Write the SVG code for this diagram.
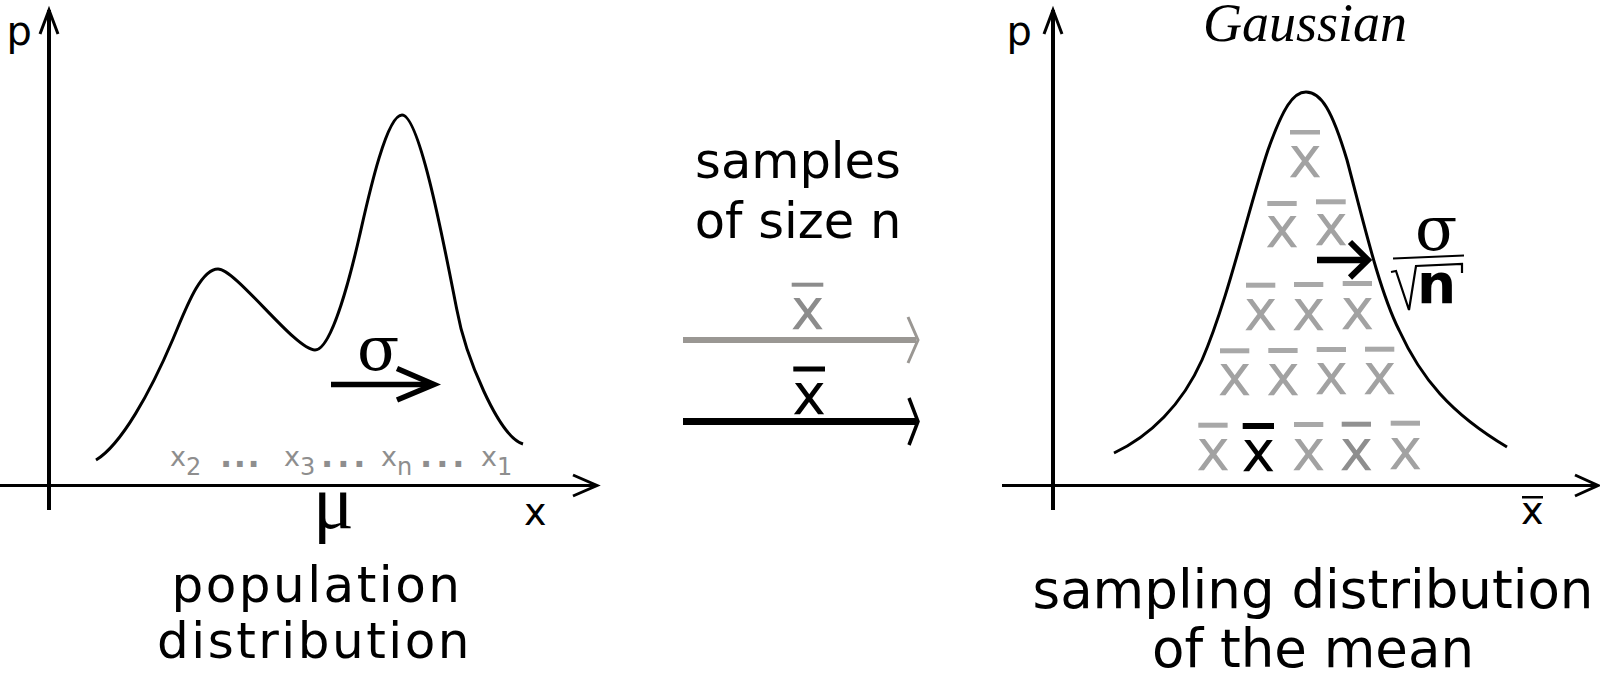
<svg xmlns="http://www.w3.org/2000/svg" width="1600" height="673" viewBox="0 0 1600 673">
<style>
.ln{stroke:#000;fill:none;stroke-width:3}
.ah{stroke:#000;fill:none;stroke-width:3;stroke-linejoin:miter}
.serif{font-family:"Liberation Serif","Times New Roman",serif}
.sig{font-family:"DejaVu Serif","Liberation Serif",serif;font-size:62px}
.mu{font-family:"Liberation Serif","Times New Roman",serif;font-size:76px}
.lbl{font-family:"DejaVu Sans","Liberation Sans",sans-serif;fill:#000}
.sm{font-family:"DejaVu Sans",sans-serif;font-size:27px;fill:#8e8e8e}
.dots{font-family:"DejaVu Sans",sans-serif;font-weight:bold;font-size:32px;fill:#8e8e8e}
.xb{font-family:"DejaVu Sans",sans-serif;font-size:57px;text-anchor:middle}
.g{fill:#a2a2a2}
.gb{fill:#a8a8a8}
</style>
<rect width="1600" height="673" fill="#fff"/>

<g id="left-panel">
  <g id="left-axes">
    <line class="ln" x1="49" y1="10" x2="49" y2="510" style="stroke-width:4"/>
    <polyline class="ah" points="40,34 49,10 58,34"/>
    <line class="ln" x1="0" y1="485.5" x2="596" y2="485.5"/>
    <polyline class="ah" points="573,475 597,485.5 573,496"/>
    <text class="lbl" x="6.5" y="45" font-size="40">p</text>
    <text class="lbl" x="524" y="525" font-size="38">x</text>
  </g>
  <g id="population-curve">
    <path class="ln" d="M96,460 C121,445 150,393 173,339 C185,311 200,269 218,269 C236,269 295,350 315,350 C332,350 351.5,271 359.5,236 C367.5,201 386,115 402,115 C420,115 445,250 456.7,309 C465,355 498,436 523,444"/>
  </g>
  <g id="sigma-arrow">
    <line x1="331" y1="384.5" x2="431" y2="384.5" stroke="#000" stroke-width="5.5"/>
    <polyline points="397,368.5 434,384.5 397,400" fill="none" stroke="#000" stroke-width="5.5"/>
    <text class="sig" x="357" y="370">σ</text>
  </g>
  <g id="samples-labels">
    <text class="sm" x="170" y="466">x<tspan font-size="24" dy="9">2</tspan></text>
    <text class="dots" x="220" y="467" letter-spacing="1.6">...</text>
    <text class="sm" x="284" y="466">x<tspan font-size="24" dy="9">3</tspan></text>
    <text class="dots" x="321" y="467" letter-spacing="4">...</text>
    <text class="sm" x="381" y="466">x<tspan font-size="24" dy="9">n</tspan></text>
    <text class="dots" x="420" y="467" letter-spacing="4">...</text>
    <text class="sm" x="481" y="466">x<tspan font-size="24" dy="9">1</tspan></text>
  </g>
  <text class="mu" x="313" y="528">μ</text>
  <g id="left-caption" class="lbl" font-size="50" letter-spacing="2.5" text-anchor="middle">
    <text x="317" y="602">population</text>
    <text x="314.5" y="658">distribution</text>
  </g>
</g>

<g id="middle">
  <g class="lbl" font-size="49.5" text-anchor="middle">
    <text x="798" y="178">samples</text>
    <text x="798" y="238">of size n</text>
  </g>
  <g id="connectors">
    <line x1="683" y1="340" x2="916" y2="340" stroke="#9a9793" stroke-width="6"/>
    <polyline points="908,317 918,340 908,363" fill="none" stroke="#9a9793" stroke-width="3"/>
    <line x1="683" y1="421.5" x2="916" y2="421.5" stroke="#000" stroke-width="7"/>
    <polyline points="909,398 918,421.5 909,445" fill="none" stroke="#000" stroke-width="3.5"/>
  </g>
  <g id="gray-mean">
    <rect x="791.7" y="282.7" width="31.6" height="4" fill="#8c8c8c"/>
    <text class="xb" x="807.5" y="328.5" fill="#8c8c8c">x</text>
  </g>
  <g id="black-mean">
    <rect x="793.3" y="366.5" width="31.7" height="5" fill="#000"/>
    <text class="xb" x="809" y="413.5" fill="#000">x</text>
  </g>
</g>

<g id="right-panel">
  <g id="right-axes">
    <line class="ln" x1="1053" y1="10" x2="1053" y2="510" style="stroke-width:4"/>
    <polyline class="ah" points="1044,34 1053,10 1062,34"/>
    <line class="ln" x1="1002" y1="485.5" x2="1597" y2="485.5"/>
    <polyline class="ah" points="1575,475 1598,485.5 1575,496"/>
    <text class="lbl" x="1006.5" y="45" font-size="40">p</text>
    <rect x="1522" y="496" width="21" height="2.5" fill="#000"/>
    <text class="lbl" x="1521" y="524" font-size="38">x</text>
  </g>
  <text class="serif" x="1203" y="41" font-size="54" font-style="italic">Gaussian</text>
  <g id="gaussian-curve">
    <path class="ln" d="M1114,453 C1150,436 1182,405 1202,360 C1228,300 1248,210 1268,150 C1283,108 1293,92 1306,92 C1321,92 1332,110 1347,160 C1363,220 1379,290 1399,330 C1421,378 1450,413 1507,447"/>
  </g>
  <g id="means-grid">
    <rect class="gb" x="1290" y="130" width="30" height="4.5"/><text class="xb g" x="1305" y="177">x</text>
    <rect class="gb" x="1267.3" y="201" width="29.4" height="5"/><text class="xb g" x="1282" y="247">x</text>
    <rect class="gb" x="1316" y="199.3" width="29.7" height="5"/><text class="xb g" x="1331" y="245">x</text>
    <rect class="gb" x="1246" y="282.7" width="29.3" height="5"/><text class="xb g" x="1260.7" y="330">x</text>
    <rect class="gb" x="1294" y="282" width="29.3" height="5"/><text class="xb g" x="1308.7" y="330">x</text>
    <rect class="gb" x="1342.7" y="281" width="29.3" height="5"/><text class="xb g" x="1357.3" y="329">x</text>
    <rect class="gb" x="1220" y="348.3" width="29.3" height="5"/><text class="xb g" x="1234.7" y="395">x</text>
    <rect class="gb" x="1268.3" y="348" width="29.3" height="5"/><text class="xb g" x="1283" y="395">x</text>
    <rect class="gb" x="1316.7" y="347" width="29.3" height="5"/><text class="xb g" x="1331.3" y="394">x</text>
    <rect class="gb" x="1365" y="346.7" width="29.3" height="5"/><text class="xb g" x="1379.7" y="394">x</text>
    <rect class="gb" x="1198.3" y="422.7" width="29.3" height="5"/><text class="xb g" x="1213" y="470">x</text>
    <rect x="1242.7" y="423" width="31.3" height="6" fill="#000"/><text class="xb" x="1258.3" y="470.5" fill="#000">x</text>
    <rect class="gb" x="1294" y="422" width="29.3" height="5"/><text class="xb g" x="1308.7" y="470">x</text>
    <rect x="1341.7" y="421.7" width="29.3" height="5" fill="#919191"/><text class="xb" x="1356.3" y="469.5" fill="#8e8e8e">x</text>
    <rect class="gb" x="1390.7" y="420.7" width="29.3" height="5"/><text class="xb g" x="1405.3" y="469">x</text>
  </g>
  <g id="sem-arrow">
    <line x1="1317" y1="260" x2="1364" y2="260" stroke="#000" stroke-width="6.5"/>
    <polyline points="1350,242 1368,260 1350,277.5" fill="none" stroke="#000" stroke-width="6"/>
    <text class="sig" x="1415" y="250">σ</text>
    <line x1="1393" y1="258.5" x2="1464" y2="255.5" stroke="#000" stroke-width="2"/>
    <polyline points="1391,272 1396,271 1409,310 1416,266 1462,264 1462,273" fill="none" stroke="#000" stroke-width="2.2"/>
    <text class="lbl" x="1417" y="303" font-size="55" font-weight="bold">n</text>
  </g>
  <g id="right-caption" class="lbl" font-size="53" text-anchor="middle">
    <text x="1313" y="608">sampling distribution</text>
    <text x="1313" y="667">of the mean</text>
  </g>
</g>
</svg>
